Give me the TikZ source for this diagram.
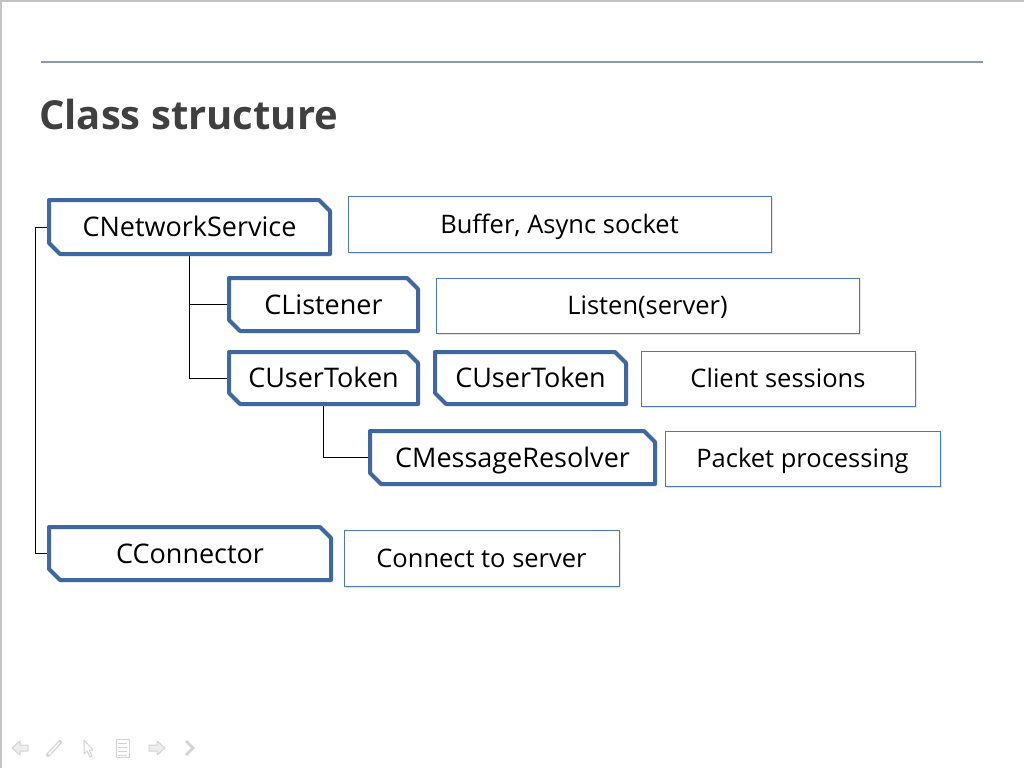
\documentclass[tikz,border=0pt]{standalone}
\usepackage{fontspec}
\setmainfont{Open Sans}
\usetikzlibrary{shadows}
\definecolor{clsblue}{HTML}{3F67A0}
\definecolor{descblue}{HTML}{4A78BE}
\definecolor{titlegray}{HTML}{404040}
\definecolor{rulegray}{HTML}{8D9AA9}
\definecolor{icongray}{HTML}{D2D2D2}
\definecolor{framegray}{HTML}{C4C4C4}
\pgfdeclarelayer{background}
\pgfsetlayers{background,main}
\tikzset{
  clsline/.style={draw=clsblue, line width=4pt, fill=white, line join=round,
    drop shadow={shadow xshift=2pt,shadow yshift=-2pt,opacity=0.25}},
  clstext/.style={rectangle, draw=none, inner sep=0pt,
    font=\fontsize{27}{30}\selectfont, text height=19.3pt, text depth=0pt},
  desc/.style={rectangle, draw=descblue, line width=1pt, fill=white,
    inner sep=0pt, font=\fontsize{25.5}{28}\selectfont,
    text height=18.2pt, text depth=0pt,
    drop shadow={shadow xshift=2pt,shadow yshift=-2pt,opacity=0.2}},
  link/.style={draw=black, line width=1pt},
  icon/.style={draw=icongray, fill=icongray!40, line width=1pt, line join=round}
}
% name, cx, cy, w, h, text
\newcommand\clsnode[6]{%
  \path[clsline] ({#2-#4/2},{#3-#5/2}) -- ({#2+#4/2-11},{#3-#5/2})
    -- ({#2+#4/2},{#3-#5/2+11}) -- ({#2+#4/2},{#3+#5/2})
    -- ({#2-#4/2+11},{#3+#5/2}) -- ({#2-#4/2},{#3+#5/2-11}) -- cycle;
  \node[clstext, minimum width=#4pt, minimum height=#5pt] (#1) at (#2,#3) {#6};
}
\begin{document}
\begin{tikzpicture}[x=1pt,y=-1pt]
\useasboundingbox (0,0) rectangle (1024,768);
\begin{pgfonlayer}{background}
\fill[white] (0,0) rectangle (1024,768);
\end{pgfonlayer}
\draw[framegray, line width=2pt] (1,768) -- (1,1) -- (1024,1);
% title and rule
\draw[rulegray, line width=2pt] (41,62) -- (983,62);
\node[anchor=base west, inner sep=0pt, text=titlegray,
  font=\fontsize{40}{46}\bfseries\selectfont] (title) at (39,129) {Class structure};
% class nodes
\clsnode{ns}{189.5}{227}{281}{54}{CNetworkService}
\clsnode{lis}{323.5}{304.5}{189}{53}{CListener}
\clsnode{ut1}{323.5}{378}{189}{52}{CUserToken}
\clsnode{ut2}{530.5}{378}{191}{52}{CUserToken}
\clsnode{mr}{512.5}{457.5}{285}{53}{CMessageResolver}
\clsnode{con}{190}{553.5}{282}{53}{CConnector}
% description nodes
\node[desc, minimum width=423pt, minimum height=56pt] (d1) at (559.5,224) {Buffer, Async socket};
\node[desc, minimum width=423pt, minimum height=55pt] (d2) at (647.5,305.5) {Listen(server)};
\node[desc, minimum width=274pt, minimum height=55pt] (d3) at (778,378.5) {Client sessions};
\node[desc, minimum width=275pt, minimum height=55pt] (d4) at (802.5,458.5) {Packet processing};
\node[desc, minimum width=275pt, minimum height=56pt] (d5) at (481.5,558) {Connect to server};
% connectors
\begin{pgfonlayer}{background}
\draw[link] (ns.south) |- (lis.west);
\draw[link] (ns.south) |- (ut1.west);
\draw[link] (ut1.south) |- (mr.west);
\coordinate (bend) at ([xshift=-13pt]ns.west);
\draw[link] (ns.west) -- (bend) |- (con.west);
\end{pgfonlayer}
% navigation icons
\draw[icon] (12,748) -- (20,741) -- (20,745) -- (28,745) -- (28,751) -- (20,751) -- (20,755) -- cycle;
\draw[icon, line width=4pt, line cap=round] (48,755) -- (60,742);
\draw[white, line width=1.5pt, line cap=round] (49,754) -- (59,743);
\draw[icon, fill=white] (84,740) -- (84,754) -- (87,751) -- (90,757) -- (92,756) -- (89,750) -- (93,750) -- cycle;
\draw[icon, fill=white] (116,739) rectangle (129,757);
\draw[icongray, line width=1pt] (118,743) -- (127,743) (118,747) -- (127,747) (118,751) -- (127,751) (118,755) -- (127,755);
\draw[icon] (165,748) -- (157,741) -- (157,745) -- (149,745) -- (149,751) -- (157,751) -- (157,755) -- cycle;
\draw[icongray, line width=2.5pt, line join=miter] (186,741) -- (193,748) -- (186,755);
\end{tikzpicture}
\end{document}
